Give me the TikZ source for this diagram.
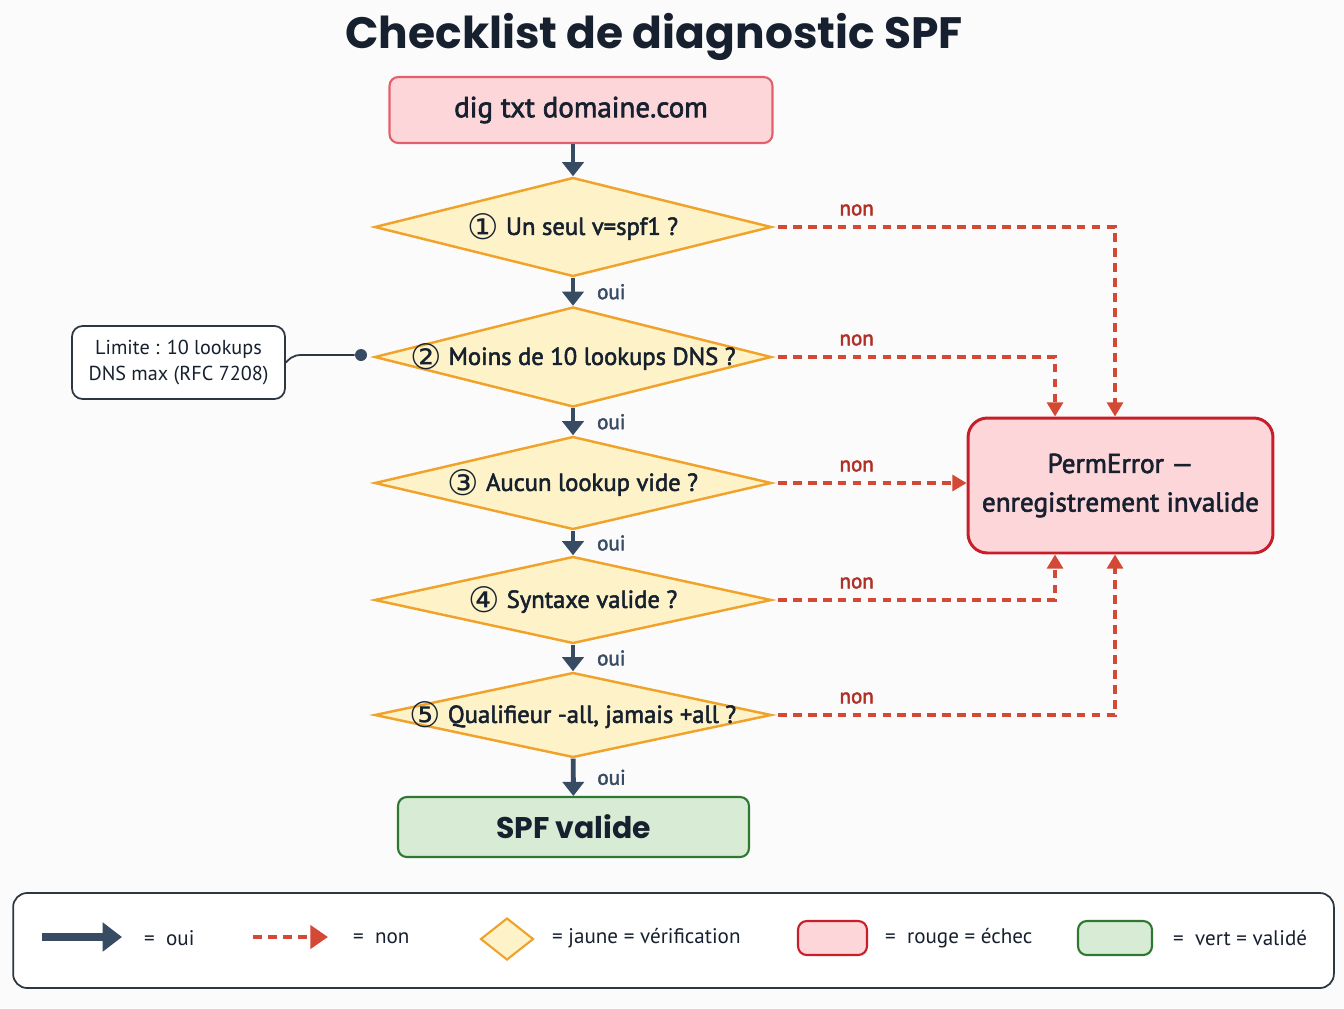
\documentclass[tikz,border=0pt]{standalone}
\usepackage{fontspec}
\setmainfont{PT Sans}
\newfontfamily\medfont[FakeBold=2.2]{PT Sans}
\newfontfamily\titlefont{Poppins}
\newfontfamily\symfont{DejaVu Sans}
\usepackage{tikz}
\usetikzlibrary{arrows.meta,calc,positioning,shapes.geometric}
\definecolor{spfnavy}{RGB}{55,75,98}
\definecolor{spfink}{RGB}{22,32,46}
\definecolor{spfred}{RGB}{212,72,54}
\definecolor{spfdarkred}{RGB}{176,48,40}
\definecolor{spfborder}{RGB}{200,30,42}
\definecolor{spfstart}{RGB}{226,96,108}
\definecolor{softpink}{RGB}{252,214,217}
\definecolor{softyellow}{RGB}{254,243,200}
\definecolor{spforange}{RGB}{240,162,42}
\definecolor{softgreen}{RGB}{216,236,213}
\definecolor{spfgreen}{RGB}{46,120,50}
\definecolor{legendline}{RGB}{45,55,66}
\definecolor{pagebg}{RGB}{251,251,251}
\tikzset{
  yes/.style={-{Triangle[width=12pt,length=8pt]}, line width=2.8pt, draw=spfnavy},
  no/.style={-{Triangle[width=9pt,length=8pt]}, line width=1.8pt, draw=spfred,
    dash pattern=on 5pt off 3.5pt, shorten <=3pt},
  box/.style={
    rounded corners=5pt,
    align=center,
    inner sep=4pt,
    font=\medfont\fontsize{16.5}{19}\selectfont,
    text=spfink
  },
  failbox/.style={box, fill=softpink, draw=spfborder, line width=1.7pt},
  startbox/.style={box, fill=softpink, draw=spfstart, line width=1.2pt},
  okbox/.style={box, fill=softgreen, draw=spfgreen, line width=1.2pt},
  check/.style={
    diamond,
    draw=spforange,
    fill=softyellow,
    line width=1.4pt,
    inner sep=0pt,
    minimum width=7.94cm
  },
  checktext/.style={font=\medfont\fontsize{14}{16}\selectfont, text=spfink},
  notebox/.style={box, fill=white, draw=legendline, line width=1pt,
    font=\fontsize{11.5}{15}\selectfont, rounded corners=6pt},
  ouilabel/.style={font=\medfont\fontsize{12}{13}\selectfont, text=spfnavy},
  nonlabel/.style={font=\medfont\fontsize{12}{13}\selectfont, text=spfdarkred},
  legtext/.style={font=\fontsize{12}{14}\selectfont, text=spfink, anchor=west}
}
\newcommand{\stepnum}[1]{\raisebox{-0.2em}{\symfont\fontsize{20}{20}\selectfont#1}}

\begin{document}
\begin{tikzpicture}[x=0.02cm,y=-0.02cm]
  \useasboundingbox[fill=pagebg] (0,0) rectangle (1344,1008);

  \node[font=\titlefont\bfseries\fontsize{25}{30}\selectfont, text=spfink] (title) at (654,37) {Checklist de diagnostic SPF};

  \node[startbox, minimum width=7.66cm, minimum height=1.32cm] (dig) at (581,110) {dig txt domaine.com};

  % the five checks
  \foreach \i/\y/\h/\n/\q in {
      1/227/99/①/{Un seul v=spf1 ?},
      2/357/100/②/{Moins de 10 lookups DNS ?},
      3/483/93/③/{Aucun lookup vide ?},
      4/600/87/④/{Syntaxe valide ?},
      5/715/85/⑤/{Qualifieur -all, jamais +all ?}}{
    \node[check, minimum height=\h*0.02cm] (c\i) at (573,\y) {};
    \node[checktext] (q\i) at (c\i) {\stepnum{\n}\ \q};
  }

  \node[okbox, minimum width=7.02cm, minimum height=1.2cm,
        font=\titlefont\bfseries\fontsize{17}{20}\selectfont] (valid) at (573.5,827) {SPF valide};

  \node[failbox, minimum width=6.1cm, minimum height=2.7cm, rounded corners=11pt,
        font=\medfont\fontsize{15.5}{22}\selectfont] (perm) at (1120.5,485.5) {PermError —\\enregistrement invalide};

  \node[notebox, minimum width=4.26cm, minimum height=1.46cm] (note) at (178.5,362.5) {Limite : 10 lookups\\DNS max (RFC 7208)};
  \node[circle, fill=spfnavy, inner sep=0pt, minimum size=0.24cm] (pin) at (361,355) {};
  \draw[line width=1pt, draw=legendline] (note.east) .. controls (294,354) and (296,355) .. (312,355) -- (pin);

  % oui path
  \draw[yes] (dig.south -| c1.north) -- (c1);
  \foreach \a/\b in {c1/c2,c2/c3,c3/c4,c4/c5,c5/valid}
    \draw[yes] (\a) -- node[ouilabel, right=9pt] {oui} (\b);

  % non paths
  \draw[no] (c1.east) -| ([xshift=-0.11cm]perm.north);
  \draw[no] (c2.east) -| ([xshift=-1.31cm]perm.north);
  \draw[no] (c3.east) -- (c3.east -| perm.west);
  \draw[no] (c4.east) -| ([xshift=-1.31cm]perm.south);
  \draw[no] (c5.east) -| ([xshift=-0.11cm]perm.south);
  \foreach \i in {1,...,5}
    \node[nonlabel] (non\i) at ([xshift=1.68cm,yshift=0.34cm]c\i.east) {non};

  % legend
  \node[draw=legendline, line width=1pt, fill=white, rounded corners=8pt,
        minimum width=26.42cm, minimum height=1.9cm] (legend) at (673.5,940.5) {};
  \coordinate (ya) at (42,937);
  \coordinate (yb) at (122,937);
  \draw[-{Triangle[width=16pt,length=11pt]}, line width=5pt, draw=spfnavy] (ya) -- (yb);
  \node[legtext] (lyes) at (138,938) {= \ oui};
  \coordinate (na) at (253,937);
  \coordinate (nb) at (328,937);
  \draw[-{Triangle[width=13pt,length=10pt]}, line width=2.8pt, draw=spfred,
        dash pattern=on 5pt off 3.5pt] (na) -- (nb);
  \node[legtext] (lno) at (347,938) {= \ non};
  \node[check, minimum width=1.06cm, minimum height=0.84cm, line width=1.2pt] (ldiam) at (507,939) {};
  \node[legtext] (lcheck) at (546,938) {= jaune = vérification};
  \node[startbox, draw=spfborder, minimum width=1.38cm, minimum height=0.68cm] (lred) at (832.5,938) {};
  \node[legtext] (lfail) at (879,938) {= \ rouge = échec};
  \node[okbox, minimum width=1.48cm, minimum height=0.68cm] (lgreen) at (1115,938) {};
  \node[legtext] (lok) at (1167,938) {= \ vert = validé};
\end{tikzpicture}
\end{document}
